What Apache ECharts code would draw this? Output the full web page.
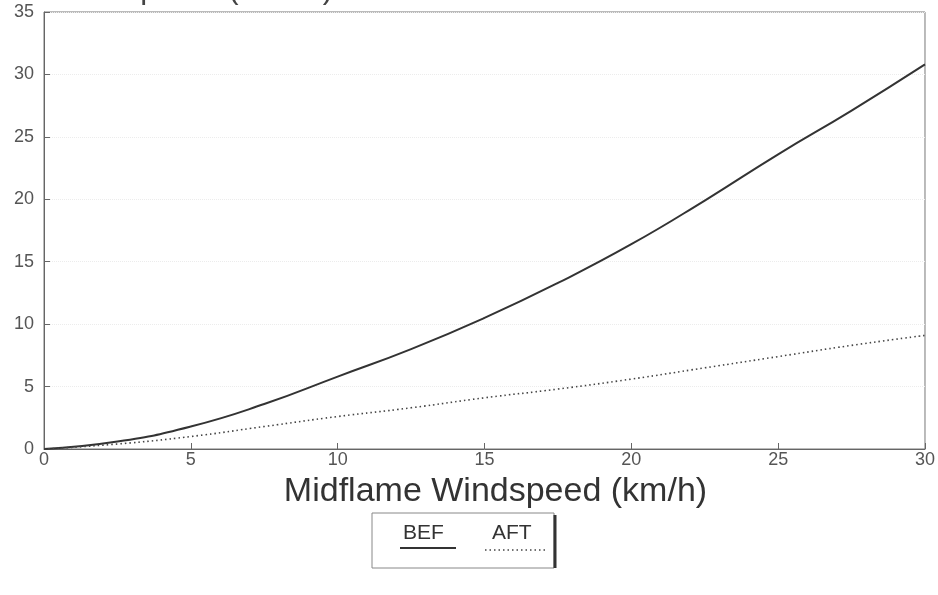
<!DOCTYPE html>
<html>
<head>
<meta charset="utf-8">
<script src="https://cdn.jsdelivr.net/npm/echarts@6/dist/echarts.min.js"></script>
<style>html,body{margin:0;padding:0;background:#fff;}#c{width:938px;height:595px;}</style>
</head>
<body>
<div id="c"></div>
<script>
const windspeed = [0, 2.5, 5, 7.5, 10, 12.5, 15, 17.5, 20, 22.5, 25, 27.5, 30];
const befValues = [0, 0.6, 1.8, 3.6, 5.8, 8.0, 10.5, 13.3, 16.4, 19.9, 23.6, 27.1, 30.8];
const aftValues = [0, 0.4, 1.0, 1.8, 2.6, 3.3, 4.1, 4.8, 5.6, 6.5, 7.4, 8.3, 9.1];
const seriesNames = ['BEF', 'AFT'];
const xAxisTitle = 'Midflame Windspeed (km/h)';
const yAxisTitle = 'Rate of Spread (m/min)';

const chart = echarts.init(document.getElementById('c'));
const font = 'Liberation Sans, Arial, sans-serif';
chart.setOption({
  animation: false,
  backgroundColor: '#fff',
  title: {
    text: yAxisTitle, left: 6, top: -31,
    textStyle: { fontFamily: font, fontSize: 31, fontWeight: 'normal', color: '#444' }
  },
  grid: { left: 44, right: 10, top: 12, bottom: 146, show: true, borderColor: '#777', borderWidth: 1 },
  xAxis: {
    type: 'value', min: 0, max: 30, interval: 5,
    name: xAxisTitle, nameLocation: 'middle', nameGap: 26,
    nameTextStyle: { fontFamily: font, fontSize: 34, color: '#333', padding: [0, 0, 0, 22] },
    axisLine: { lineStyle: { color: '#666' } },
    axisTick: { inside: true, length: 6, lineStyle: { color: '#666' } },
    axisLabel: { fontFamily: font, fontSize: 18, color: '#555', margin: 2 },
    splitLine: { show: false }
  },
  yAxis: {
    type: 'value', min: 0, max: 35, interval: 5,
    axisLine: { show: true, lineStyle: { color: '#666' } },
    axisTick: { show: true, inside: true, length: 6, lineStyle: { color: '#666' } },
    axisLabel: { fontFamily: font, fontSize: 18, color: '#555', margin: 10 },
    splitLine: { show: true, lineStyle: { color: '#ececec', type: 'dotted' } }
  },
  series: [
    {
      name: seriesNames[0], type: 'line', smooth: true, symbol: 'none',
      data: windspeed.map((x, i) => [x, befValues[i]]),
      lineStyle: { color: '#333', width: 2 }
    },
    {
      name: seriesNames[1], type: 'line', smooth: true, symbol: 'none',
      data: windspeed.map((x, i) => [x, aftValues[i]]),
      lineStyle: { color: '#444', width: 1.6, type: [1.5, 3] }
    }
  ],
  graphic: [
    { type: 'rect', shape: { x: 372, y: 513, width: 182, height: 55 },
      style: { fill: '#fff', stroke: '#888', lineWidth: 1 } },
    { type: 'line', shape: { x1: 555, y1: 515, x2: 555, y2: 568 },
      style: { stroke: '#333', lineWidth: 3 } },
    { type: 'text', x: 403, y: 523, style: { text: seriesNames[0], font: '21px ' + font, fill: '#333' } },
    { type: 'line', shape: { x1: 400, y1: 548, x2: 456, y2: 548 },
      style: { stroke: '#333', lineWidth: 2 } },
    { type: 'text', x: 492, y: 523, style: { text: seriesNames[1], font: '21px ' + font, fill: '#333' } },
    { type: 'line', shape: { x1: 485, y1: 550, x2: 545, y2: 550 },
      style: { stroke: '#444', lineWidth: 1.6, lineDash: [1.5, 3] } }
  ]
});
</script>
</body>
</html>
